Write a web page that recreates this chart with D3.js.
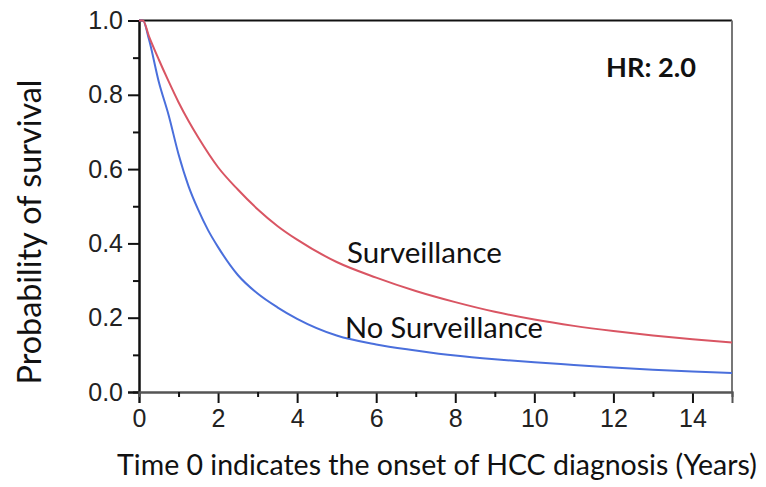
<!DOCTYPE html>
<html><head><meta charset="utf-8">
<script src="https://cdn.jsdelivr.net/npm/d3@7"></script>
<style>body{margin:0;background:#fff}svg{display:block}</style>
</head><body>
<svg id="c" width="766" height="487"></svg>
<script>
// Data
const timeSurv   = [0, 0.1, 0.25, 0.5, 0.75, 1.0, 1.25, 1.5, 2.0, 2.5, 3.0, 3.5, 4.0, 5.0, 6.0, 7.0, 8.0, 9.0, 10, 11, 12, 13, 14, 15];
const survSurv   = [1.0, 1.0, 0.958, 0.895, 0.836, 0.78, 0.73, 0.685, 0.605, 0.545, 0.492, 0.447, 0.41, 0.35, 0.308, 0.272, 0.242, 0.216, 0.195, 0.178, 0.164, 0.152, 0.142, 0.133];
const timeNoSurv = [0, 0.1, 0.25, 0.5, 0.75, 1.0, 1.25, 1.5, 1.75, 2.0, 2.5, 3.0, 3.5, 4.0, 5.0, 6.0, 7.0, 8.0, 9.0, 10, 11, 12, 13, 14, 15];
const survNoSurv = [1.0, 1.0, 0.95, 0.835, 0.745, 0.64, 0.555, 0.49, 0.435, 0.39, 0.315, 0.265, 0.228, 0.197, 0.152, 0.128, 0.112, 0.098, 0.088, 0.08, 0.073, 0.066, 0.06, 0.055, 0.051];
const xMajorTicks = [0, 2, 4, 6, 8, 10, 12, 14];
const xMinorTicks = [1, 3, 5, 7, 9, 11, 13];
const yMajorTicks = [0.0, 0.2, 0.4, 0.6, 0.8, 1.0];
const yMinorTicks = [0.1, 0.3, 0.5, 0.7, 0.9];
const seriesNames = ["Surveillance", "No Surveillance"];
const hrText = "HR: 2.0";
const xTitle = "Time 0 indicates the onset of HCC diagnosis (Years)";
const yTitle = "Probability of survival";

const svg = d3.select("#c");
const x = d3.scaleLinear().domain([0, 15]).range([139, 732]);
const y = d3.scaleLinear().domain([0, 1]).range([392, 20.5]);

function fit(sel, w) {
  const n = sel.node();
  const fs = parseFloat(sel.attr("font-size"));
  const m = n.getComputedTextLength();
  sel.attr("font-size", fs * w / m);
}

// frame: top and right
svg.append("line").attr("x1", x(0)).attr("x2", x(15)).attr("y1", y(1)).attr("y2", y(1))
  .attr("stroke", "#111").attr("stroke-width", 2);
svg.append("line").attr("x1", x(15)).attr("x2", x(15)).attr("y1", y(1)).attr("y2", y(0))
  .attr("stroke", "#777").attr("stroke-width", 2);

// axes
const tickFont = "'Liberation Sans', Arial, sans-serif";
const yAx = svg.append("g").attr("transform", `translate(${x(0)},0)`)
  .call(d3.axisLeft(y).tickValues(yMajorTicks).tickSize(11).tickPadding(5).tickFormat(d3.format(".1f")));
const yAxMin = svg.append("g").attr("transform", `translate(${x(0)},0)`)
  .call(d3.axisLeft(y).tickValues(yMinorTicks).tickSize(6).tickFormat(""));
const xAx = svg.append("g").attr("transform", `translate(0,${y(0)})`)
  .call(d3.axisBottom(x).tickValues(xMajorTicks).tickSize(11).tickPadding(6).tickFormat(d3.format("d")));
const xAxMin = svg.append("g").attr("transform", `translate(0,${y(0)})`)
  .call(d3.axisBottom(x).tickValues(xMinorTicks).tickSize(5).tickFormat(""));
[yAx, yAxMin, xAx, xAxMin].forEach(g => {
  g.select(".domain").attr("stroke", "#111").attr("stroke-width", 2);
  g.selectAll(".tick line").attr("stroke", "#111").attr("stroke-width", 2);
  g.selectAll("text").attr("font-family", tickFont).attr("font-size", 25).attr("fill", "#222");
});
xAx.select(".domain").attr("stroke", "#555");
xAxMin.select(".domain").attr("stroke", "#555");

// curves
const line = d3.line().x(d => x(d[0])).y(d => y(d[1])).curve(d3.curveMonotoneX);
const dataSurv = timeSurv.map((t, i) => [t, survSurv[i]]);
const dataNo = timeNoSurv.map((t, i) => [t, survNoSurv[i]]);
svg.append("path").datum(dataNo).attr("d", line).attr("fill", "none")
  .attr("stroke", "#4a6fdc").attr("stroke-width", 2);
svg.append("path").datum(dataSurv).attr("d", line).attr("fill", "none")
  .attr("stroke", "#d95563").attr("stroke-width", 2);

// texts
const labFont = "Lato, 'Open Sans', sans-serif";
const t1 = svg.append("text").attr("x", 347).attr("y", 263).attr("font-family", labFont)
  .attr("font-size", 24).attr("fill", "#111").text(seriesNames[0]);
fit(t1, 155);
const t2 = svg.append("text").attr("x", 345).attr("y", 338).attr("font-family", labFont)
  .attr("font-size", 24).attr("fill", "#111").text(seriesNames[1]);
fit(t2, 198);
const hr = svg.append("text").attr("x", 606).attr("y", 77).attr("font-family", labFont)
  .attr("font-weight", "bold").attr("font-size", 24).attr("fill", "#111").text(hrText);
fit(hr, 90);
const xt = svg.append("text").attr("x", 437).attr("y", 475).attr("text-anchor", "middle")
  .attr("font-family", labFont).attr("font-size", 24).attr("fill", "#111").text(xTitle);
fit(xt, 640);
const yt = svg.append("text").attr("transform", "translate(41,232) rotate(-90)").attr("text-anchor", "middle")
  .attr("font-family", labFont).attr("font-size", 24).attr("fill", "#111").text(yTitle);
fit(yt, 305);
</script>
</body></html>
